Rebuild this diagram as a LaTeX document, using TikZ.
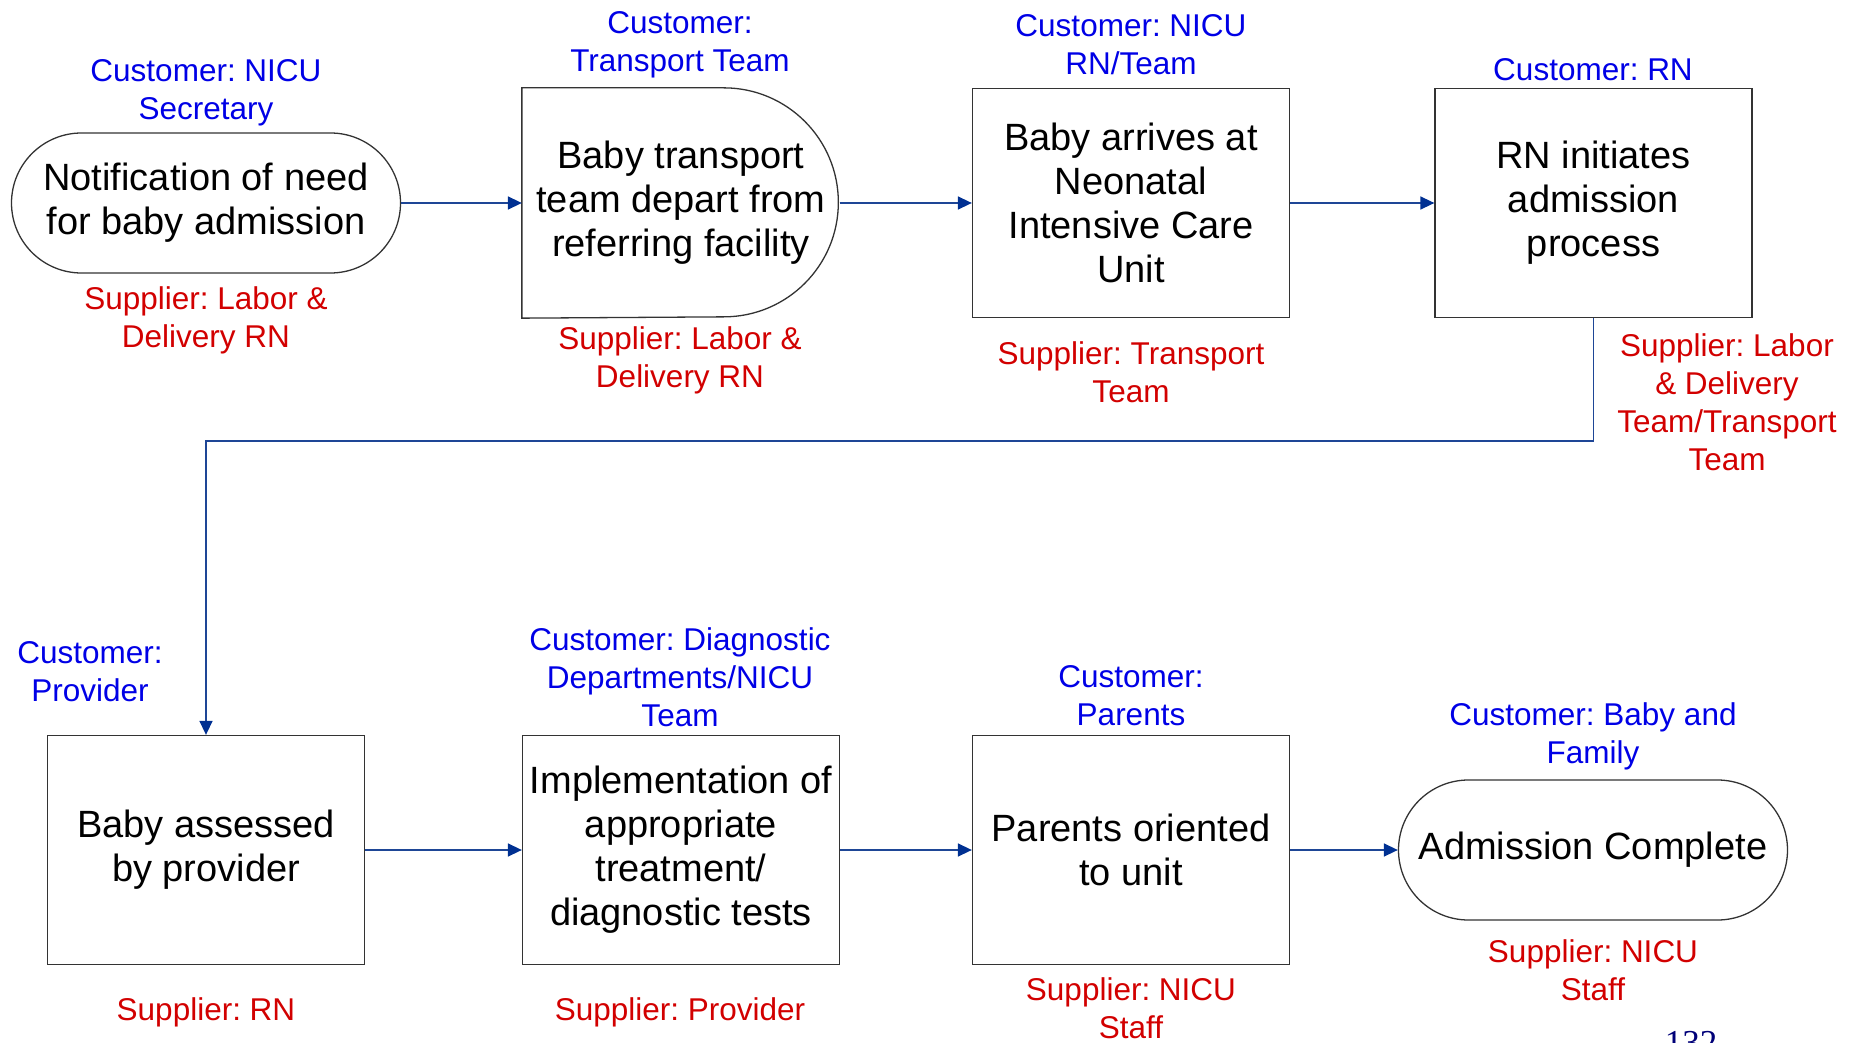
\documentclass[tikz,border=0pt]{standalone}
\usepackage{fontspec}
\setmainfont{Liberation Sans}
\newfontfamily\pagefont{Liberation Serif}
\frenchspacing
\usetikzlibrary{arrows.meta}
\definecolor{custblue}{RGB}{0,0,230}
\definecolor{suppred}{RGB}{210,0,0}
\definecolor{flowline}{RGB}{30,70,150}
\definecolor{flowtip}{RGB}{0,48,146}
\definecolor{pagenum}{RGB}{0,0,120}

\tikzset{
  stepbox/.style={draw=black!80, line width=1.3pt, minimum width=317pt, minimum height=229pt,
    align=center, inner sep=2pt, font=\fontsize{38}{44}\selectfont},
  term/.style={stepbox, rounded corners=70pt, minimum width=389pt, minimum height=140pt},
  cust/.style={text=custblue, align=center, inner sep=0pt, yshift=-1.5pt, font=\fontsize{31.5}{38}\selectfont},
  supp/.style={cust, text=suppred},
  flow/.style={draw=flowline, line width=1.5pt, -{Triangle[length=14pt,width=13pt,color=flowtip]}}
}

\begin{document}
\begin{tikzpicture}[x=1pt, y=1pt]
\useasboundingbox (0,0) rectangle (1864,-1043);

% first row
\node[term] (notify) at (206,-203) {Notification of need\\for baby admission};
\node[stepbox, draw=none] (depart) at (681,-203) {Baby transport\\team depart from\\referring facility};
\draw[black!80, line width=1.3pt] (depart.north west) -- ++(202,0)
  arc[start angle=90, end angle=-90, radius=114.5] -- (depart.south west) -- cycle;
\node[stepbox] (arrive) at (1131,-203) {Baby arrives at\\Neonatal\\Intensive Care\\Unit};
\node[stepbox] (initiate) at (1593.5,-203) {RN initiates\\admission\\process};

% second row
\node[stepbox] (assess) at (206,-850) {Baby assessed\\by provider};
\node[stepbox] (treat) at (681,-850) {Implementation of\\appropriate\\treatment/\\diagnostic tests};
\node[stepbox] (orient) at (1131,-850) {Parents oriented\\to unit};
\node[term] (complete) at (1593,-850) {Admission Complete};

% customers
\node[cust] (cnotify) at (206,-91) {Customer: NICU\\Secretary};
\node[cust] (cdepart) at (680,-43) {Customer:\\Transport Team};
\node[cust] (carrive) at (1131,-43) {Customer: NICU\\RN/Team};
\node[cust] (cinitiate) at (1593,-68) {Customer: RN};
\node[cust] (cassess) at (90,-670) {Customer:\\Provider};
\node[cust] (ctreat) at (680,-676) {Customer: Diagnostic\\Departments/NICU\\Team};
\node[cust] (corient) at (1131,-694) {Customer:\\Parents};
\node[cust] (ccomplete) at (1593,-735) {Customer: Baby and\\Family};

% suppliers
\node[supp] (snotify) at (206,-319) {Supplier: Labor \&\\Delivery RN};
\node[supp] (sdepart) at (680,-359) {Supplier: Labor \&\\Delivery RN};
\node[supp] (sarrive) at (1131,-371) {Supplier: Transport\\Team};
\node[supp] (sinitiate) at (1727,-401) {Supplier: Labor\\\& Delivery\\Team/Transport\\Team};
\node[supp] (sassess) at (206,-1011) {Supplier: RN};
\node[supp] (streat) at (680,-1011) {Supplier: Provider};
\node[supp] (sorient) at (1131,-1007) {Supplier: NICU\\Staff};
\node[supp] (scomplete) at (1593,-969) {Supplier: NICU\\Staff};

\node[anchor=base, inner sep=0pt, text=pagenum, font=\pagefont\fontsize{35}{40}\selectfont] (pageno) at (1691,-1054) {132};

% flow
\draw[flow] (notify) -- (depart);
\draw[flow] (depart) -- (arrive);
\draw[flow] (arrive) -- (initiate);
\draw[flow] (initiate.south) -- ++(0,-123) -| (assess.north);
\draw[flow] (assess) -- (treat);
\draw[flow] (treat) -- (orient);
\draw[flow] (orient) -- (complete);
\end{tikzpicture}
\end{document}
